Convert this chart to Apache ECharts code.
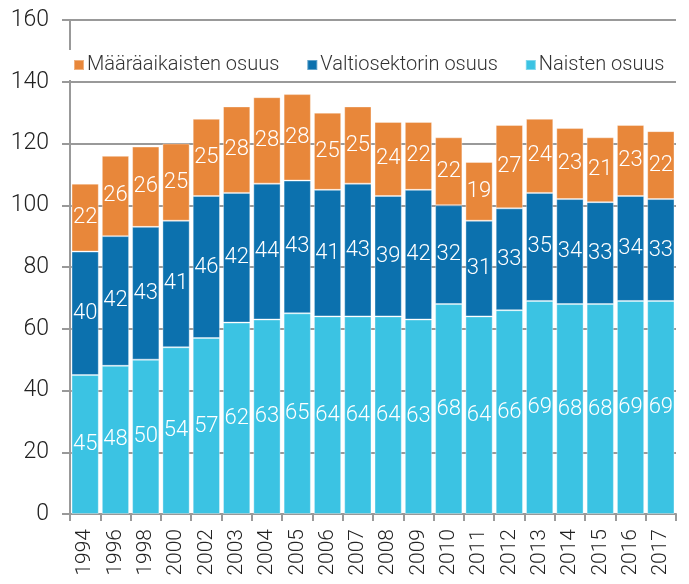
<!DOCTYPE html>
<html><head><meta charset="utf-8">
<script src="https://cdn.jsdelivr.net/npm/echarts@6/dist/echarts.min.js"></script>
<style>html,body{margin:0;padding:0;background:#fff}#c{width:689px;height:584px}</style>
</head><body><div id="c"></div>
<script>
const years = ['1994','1996','1998','2000','2002','2003','2004','2005','2006','2007','2008','2009','2010','2011','2012','2013','2014','2015','2016','2017'];
const naiset = [45,48,50,54,57,62,63,65,64,64,64,63,68,64,66,69,68,68,69,69];
const valtio = [40,42,43,41,46,42,44,43,41,43,39,42,32,31,33,35,34,33,34,33];
const maaraaik = [22,26,26,25,25,28,28,28,25,25,24,22,22,19,27,24,23,21,23,22];
const yTicks = {min:0, max:160, interval:20};

const FONT = 'Roboto';
const lbl = {show:true, position:'inside', color:'#fff', fontFamily:FONT, fontWeight:300, fontSize:22};
const edge = {borderColor:'rgba(255,255,255,0.35)', borderWidth:1};
const chart = echarts.init(document.getElementById('c'), null, {renderer:'canvas'});
chart.setOption({
  animation:false,
  textStyle:{fontFamily:FONT},
  legend:{
    data:['Määräaikaisten osuus','Valtiosektorin osuus','Naisten osuus'],
    left:68, top:50, itemWidth:10, itemHeight:10, itemGap:27,
    icon:'rect',
    textStyle:{fontFamily:FONT, fontWeight:300, fontSize:20, color:'#333', padding:[4,0,0,-2]},
    backgroundColor:'#fff'
  },
  grid:{left:70, right:13, top:20, bottom:70},
  xAxis:{
    type:'category', data:years,
    axisLine:{show:true, lineStyle:{color:'#999', width:2}},
    axisTick:{show:true, length:7, lineStyle:{color:'#999', width:2}},
    axisLabel:{rotate:90, fontSize:21, fontWeight:300, color:'#222', fontFamily:FONT, margin:15}
  },
  yAxis:{
    type:'value', min:yTicks.min, max:yTicks.max, interval:yTicks.interval,
    axisLine:{show:true, lineStyle:{color:'#999', width:2}},
    axisTick:{show:true, length:8, lineStyle:{color:'#999', width:2}},
    splitLine:{show:true, lineStyle:{color:'#999', width:2}},
    axisLabel:{fontSize:23, fontWeight:300, color:'#222', fontFamily:FONT, margin:21}
  },
  series:[
    {name:'Naisten osuus', type:'bar', stack:'a', data:naiset, barCategoryGap:'10%',
     itemStyle:Object.assign({color:'#3BC3E3'}, edge), label:lbl},
    {name:'Valtiosektorin osuus', type:'bar', stack:'a', data:valtio,
     itemStyle:Object.assign({color:'#0C71AE'}, edge), label:lbl},
    {name:'Määräaikaisten osuus', type:'bar', stack:'a', data:maaraaik,
     itemStyle:Object.assign({color:'#E8873A'}, edge), label:lbl}
  ]
});
</script></body></html>
